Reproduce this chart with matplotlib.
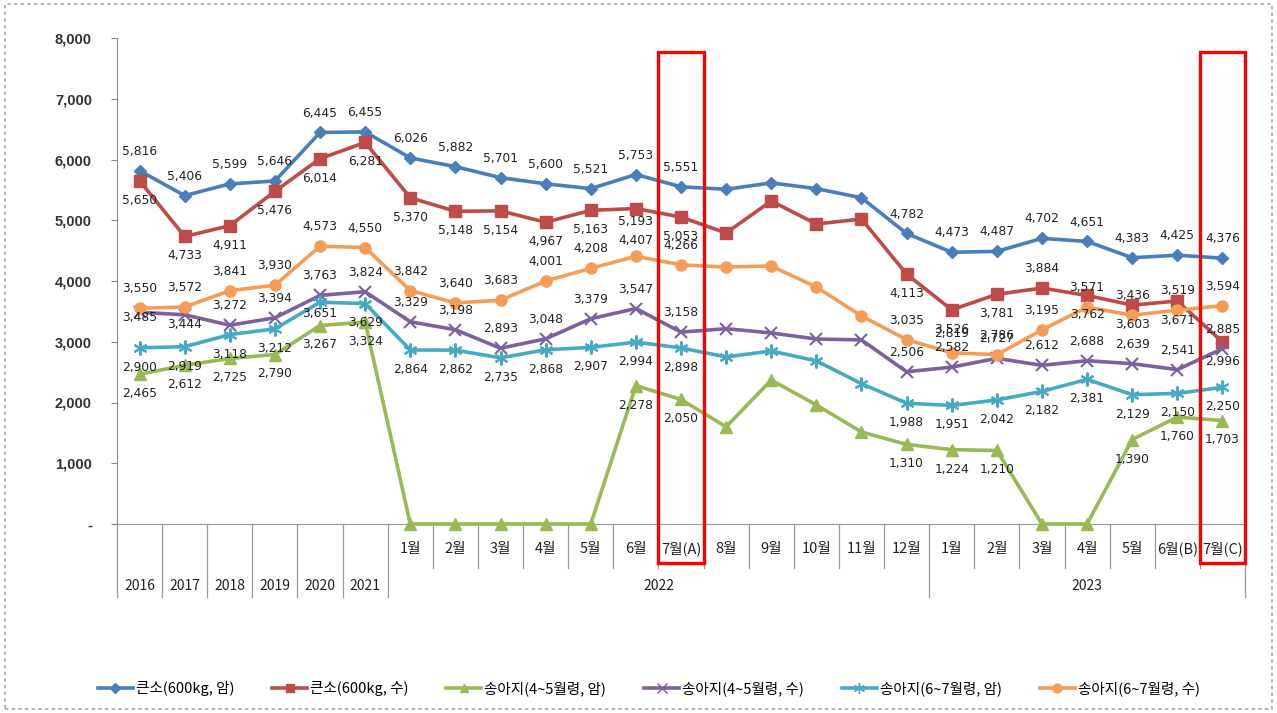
import matplotlib
matplotlib.use("Agg")
import matplotlib.pyplot as plt
from matplotlib.transforms import blended_transform_factory
from matplotlib.patches import Rectangle
from matplotlib.lines import Line2D

plt.rcParams['font.family'] = ['Noto Sans CJK KR', 'DejaVu Sans']

# ---- data ----
years = ['2016', '2017', '2018', '2019', '2020', '2021']
months_2022 = ['1월', '2월', '3월', '4월', '5월', '6월', '7월(A)', '8월', '9월', '10월', '11월', '12월']
months_2023 = ['1월', '2월', '3월', '4월', '5월', '6월(B)', '7월(C)']
categories = years + months_2022 + months_2023

series_names = ['큰소(600kg, 암)', '큰소(600kg, 수)', '송아지(4~5월령, 암)',
                '송아지(4~5월령, 수)', '송아지(6~7월령, 암)', '송아지(6~7월령, 수)']

big_f = [5816, 5406, 5599, 5646, 6445, 6455,
         6026, 5882, 5701, 5600, 5521, 5753, 5551, 5510, 5615, 5520, 5370, 4782,
         4473, 4487, 4702, 4651, 4383, 4425, 4376]
big_m = [5650, 4733, 4911, 5476, 6014, 6281,
         5370, 5148, 5154, 4967, 5163, 5193, 5053, 4790, 5317, 4938, 5021, 4113,
         3526, 3781, 3884, 3762, 3603, 3671, 2996]
calf45_f = [2465, 2612, 2725, 2790, 3267, 3324,
            0, 0, 0, 0, 0, 2278, 2050, 1600, 2370, 1960, 1515, 1310,
            1224, 1210, 0, 0, 1390, 1760, 1703]
calf45_m = [3485, 3444, 3272, 3394, 3763, 3824,
            3329, 3198, 2893, 3048, 3379, 3547, 3158, 3215, 3145, 3045, 3030, 2506,
            2582, 2727, 2612, 2688, 2639, 2541, 2885]
calf67_f = [2900, 2919, 3118, 3212, 3651, 3629,
            2864, 2862, 2735, 2868, 2907, 2994, 2898, 2750, 2848, 2685, 2310, 1988,
            1951, 2042, 2182, 2381, 2129, 2150, 2250]
calf67_m = [3550, 3572, 3841, 3930, 4573, 4550,
            3842, 3640, 3683, 4001, 4208, 4407, 4266, 4230, 4247, 3900, 3425, 3035,
            2819, 2786, 3195, 3571, 3436, 3519, 3594]

unlabeled_2022 = [13, 14, 15, 16]

colors = ['#4A7EBB', '#BE4B48', '#98B954', '#7D60A0', '#46AAC5', '#F59D56']
markers = ['D', 's', '^', 'x', (6, 2, 0), 'o']
msizes = [6, 8, 8, 9, 10, 8]
all_series = [big_f, big_m, calf45_f, calf45_m, calf67_f, calf67_m]
default_off = [14, -14, -14, 14, -14, 14]
off_override = {
    (1, 20): 14,               # red 2023-03 above
    (3, 0): -4, (3, 1): -7,    # purple 2016, 2017 below
    (1, 11): -9, (5, 11): 11,  # red/orange 2022-06
    (4, 4): -8, (4, 5): -14,
}

fig = plt.figure(figsize=(12.77, 7.13), dpi=100)
L, R = 117 / 1277, 1245 / 1277
T, B = 1 - 38 / 713, 1 - 524 / 713
ax = fig.add_axes([L, B, R - L, T - B])

x = list(range(len(categories)))
for i, (vals, name) in enumerate(zip(all_series, series_names)):
    ax.plot(x, vals, color=colors[i], lw=2.6, marker=markers[i], ms=msizes[i],
            mew=1.5 if i in (3, 4) else 1, mec=colors[i], mfc=colors[i],
            label=name, clip_on=False, zorder=3)
    for j, v in enumerate(vals):
        if v == 0 or j in unlabeled_2022:
            continue
        off = off_override.get((i, j), default_off[i])
        ax.annotate(f'{v:,}', (j, v), xytext=(0, off), textcoords='offset points',
                    ha='center', va='center', fontsize=8.8, color='#222222',
                    family=['DejaVu Sans'], zorder=5)

ax.set_xlim(-0.5, len(categories) - 0.5)
ax.set_ylim(0, 8000)
yt = list(range(0, 8001, 1000))
ax.set_yticks(yt)
ax.set_yticklabels(['-' if v == 0 else f'{v:,}' for v in yt], fontsize=10.5,
                   fontweight='bold', color='#333333', family=['Liberation Sans'])
ax.tick_params(axis='y', length=4, color='#888888', pad=14)
ax.set_xticks([])
for s in ['top', 'right']:
    ax.spines[s].set_visible(False)
ax.spines['left'].set_color('#888888')
ax.spines['bottom'].set_color('#999999')

# category table
tr = blended_transform_factory(ax.transData, ax.transAxes)
ah = 524 - 38
def fy(px):
    return (524 - px) / ah

month_row_y = fy(549)
month_sep_bottom = fy(568)
year_row_y = fy(586)
table_bottom = fy(597)
line_kw = dict(color='#999999', lw=0.9, transform=tr, clip_on=False)

for k in range(0, 7):
    ax.plot([k - 0.5, k - 0.5], [0, table_bottom], **line_kw)
for k in range(7, len(categories)):
    if k == 18:
        continue
    ax.plot([k - 0.5, k - 0.5], [0, month_sep_bottom], **line_kw)
ax.plot([17.5, 17.5], [0, table_bottom], **line_kw)
ax.plot([24.5, 24.5], [0, table_bottom], **line_kw)

for k, yr in enumerate(years):
    ax.text(k, year_row_y, yr, transform=tr, ha='center', va='center', fontsize=10,
            color='#222222')
for k, m in enumerate(months_2022):
    ax.text(6 + k, month_row_y, m, transform=tr, ha='center', va='center',
            fontsize=10.5, color='#222222')
for k, m in enumerate(months_2023):
    ax.text(18 + k, month_row_y, m, transform=tr, ha='center', va='center',
            fontsize=10.5, color='#222222')
ax.text(6 + 5.5, year_row_y, '2022', transform=tr, ha='center', va='center', fontsize=10,
        color='#222222')
ax.text(18 + 3, year_row_y, '2023', transform=tr, ha='center', va='center', fontsize=10,
        color='#222222')

# red highlight boxes
for idx in (12, 24):
    ax.add_patch(Rectangle((idx - 0.5, fy(563)), 1, fy(52) - fy(563), transform=tr,
                           fill=False, edgecolor='#FF0000', lw=2.4, clip_on=False,
                           zorder=6))

# legend
handles = [Line2D([0], [0], color=colors[i], lw=2.6, marker=markers[i],
                  ms=msizes[i] * 0.8, mec=colors[i], mfc=colors[i])
           for i in range(6)]
fig.legend(handles, series_names, loc='center', bbox_to_anchor=(0.508, 1 - 689 / 713),
           ncol=6, frameon=False, fontsize=10.5, handlelength=2.4, columnspacing=2.6,
           handletextpad=0.2)

# dashed frame
fig.add_artist(Rectangle((0.004, 0.006), 0.992, 0.988, transform=fig.transFigure,
                         fill=False, edgecolor='#A6A6A6', lw=1.2, ls=(0, (2, 2))))

fig.savefig('out.png', dpi=100)
